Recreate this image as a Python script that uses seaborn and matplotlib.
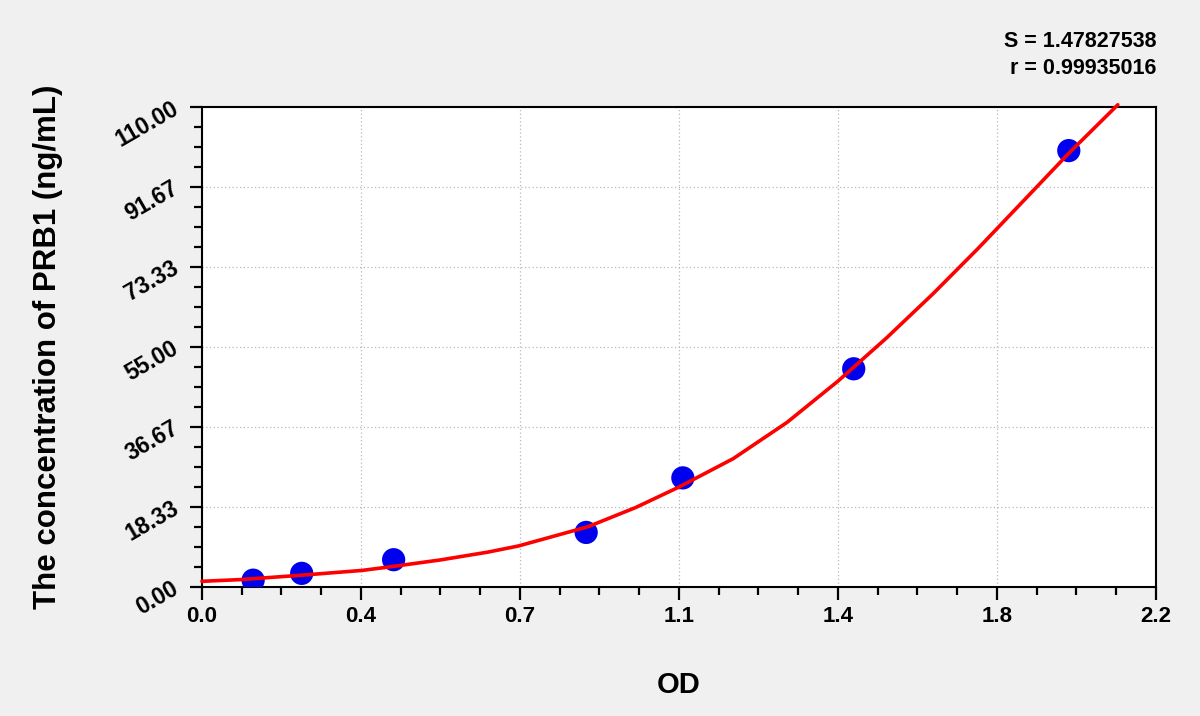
import numpy as np
import pandas as pd
import matplotlib
matplotlib.use("Agg")
import matplotlib.pyplot as plt
import seaborn as sns
from matplotlib.ticker import AutoMinorLocator

# Standard points (OD vs concentration)
od_points = [0.118, 0.230, 0.442, 0.886, 1.109, 1.503, 1.999]
conc_points = [1.56, 3.12, 6.25, 12.5, 25.0, 50.0, 100.0]

# Fitted curve
curve_od = [0.0, 0.09, 0.23, 0.37, 0.44, 0.55, 0.66, 0.73, 0.89, 1.00, 1.10,
            1.225, 1.349, 1.467, 1.579, 1.687, 1.791, 1.908, 1.999, 2.112]
curve_conc = [1.3, 1.7, 2.7, 3.8, 4.7, 6.2, 8.0, 9.4, 13.8, 18.2, 22.9,
              29.4, 37.7, 47.2, 57.1, 67.3, 77.7, 89.9, 99.4, 110.5]

x_ticks = [0.0, 2.2 / 6, 4.4 / 6, 1.1, 8.8 / 6, 11.0 / 6, 2.2]
x_labels = ["0.0", "0.4", "0.7", "1.1", "1.4", "1.8", "2.2"]
y_ticks = [0.0, 110 / 6, 220 / 6, 55.0, 440 / 6, 550 / 6, 110.0]
y_labels = ["0.00", "18.33", "36.67", "55.00", "73.33", "91.67", "110.00"]

stats_text = "S = 1.47827538\nr = 0.99935016"

sns.set_theme(style="white")
plt.rcParams["font.family"] = ["Liberation Sans", "DejaVu Sans"]
plt.rcParams["text.color"] = "black"
plt.rcParams["axes.labelcolor"] = "black"
plt.rcParams["xtick.color"] = "black"
plt.rcParams["ytick.color"] = "black"

fig = plt.figure(figsize=(12, 7.16), dpi=100, facecolor="#f0f0f0")
ax = fig.add_axes([0.1683, 0.1802, 0.9633 - 0.1683, 0.8506 - 0.1802])
ax.set_facecolor("white")

pts = pd.DataFrame({"od": od_points, "conc": conc_points})
curve = pd.DataFrame({"od": curve_od, "conc": curve_conc})

sns.scatterplot(data=pts, x="od", y="conc", ax=ax, s=280, color="#0000ee",
                edgecolor="none", zorder=3)
sns.lineplot(data=curve, x="od", y="conc", ax=ax, color="#ff0000", linewidth=2.6,
             sort=False, estimator=None, zorder=4, clip_on=False)

ax.set_xlim(0, 2.2)
ax.set_ylim(0, 110)
ax.set_xticks(x_ticks)
ax.set_xticklabels(x_labels, fontsize=16, fontweight="bold")
ax.set_yticks(y_ticks)
ax.set_yticklabels(y_labels, fontsize=16.5, fontweight="bold", rotation=30,
                   ha="right", va="center", rotation_mode="anchor")
ax.xaxis.set_minor_locator(AutoMinorLocator(4))
ax.yaxis.set_minor_locator(AutoMinorLocator(4))
ax.tick_params(which="major", direction="out", length=9, width=1.6, pad=5,
               bottom=True, left=True)
ax.tick_params(axis="y", which="major", pad=9)
ax.tick_params(which="minor", direction="out", length=6, width=1.6,
               bottom=True, left=True)
ax.grid(True, which="major", linestyle=(0, (1, 2)), color="#b8b8b8", linewidth=0.9)

for side in ax.spines.values():
    side.set_color("black")
    side.set_linewidth(1.5)

ax.set_xlabel("OD", fontsize=21, fontweight="bold")
ax.xaxis.set_label_coords(0.5, -0.175)
ax.set_ylabel("The concentration of PRB1 (ng/mL)", fontsize=22.5, fontweight="bold")
ax.yaxis.set_label_coords(-0.146, 0.5)

fig.text(0.964, 0.923, stats_text, ha="right", va="center", fontsize=15.5,
         fontweight="bold", linespacing=1.4)

fig.savefig("out.png", dpi=100, facecolor=fig.get_facecolor())
